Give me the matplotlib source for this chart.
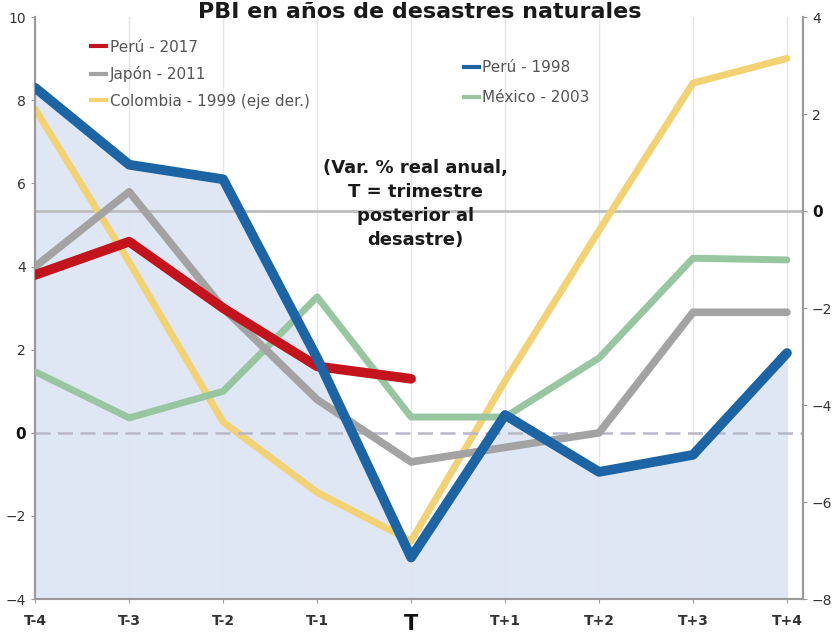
import matplotlib
matplotlib.use("Agg")
from matplotlib import pyplot as plt

quarters = ["T-4", "T-3", "T-2", "T-1", "T", "T+1", "T+2", "T+3", "T+4"]

peru_2017 = [3.8, 4.6, 3.0, 1.6, 1.3]
japon_2011 = [4.0, 5.8, 3.0, 0.8, -0.7, -0.35, 0.0, 2.9, 2.9]
peru_1998 = [8.3, 6.45, 6.1, 1.8, -3.0, 0.43, -0.94, -0.53, 1.92]
mexico_2003 = [1.47, 0.36, 1.0, 3.27, 0.38, 0.38, 1.8, 4.2, 4.16]
colombia_1999 = [2.1, -1.05, -4.35, -5.8, -6.8, -3.5, -0.4, 2.64, 3.15]  # eje derecho

left_ticks = [-4, -2, 0, 2, 4, 6, 8, 10]
right_ticks = [-8, -6, -4, -2, 0, 2, 4]

x = list(range(len(quarters)))

fig = plt.figure(figsize=(8.39, 6.36), dpi=100)
ax = fig.add_axes([0.042, 0.058, 0.915, 0.915])
ax2 = ax.twinx()
ax.set_zorder(ax2.get_zorder() + 1)
ax.patch.set_visible(False)

ax.set_xlim(0, 8.17)
ax.set_ylim(-4, 10)
ax2.set_ylim(-8, 4)

# background layer (ax2 sits under ax): shaded area under Peru 1998, grid, colombia
ax2.fill_between(x, peru_1998, -4, color="#dfe7f4", lw=0, zorder=0, transform=ax.transData)
for xi in x:
    ax2.axvline(xi, color="#e4e4ec", lw=1, zorder=0.5)
ax2.axhline(0, color="#bdbdbd", lw=2, zorder=1)
ax2.plot(x, colombia_1999, color="#f3d274", lw=5, solid_capstyle="round", zorder=2)
ax2.set_yticks(right_ticks)

ax.axhline(0, color="#b8b8c8", lw=1.8, ls=(0, (6, 3)), zorder=1)
ax.plot(x, mexico_2003, color="#97c6a1", lw=5, solid_capstyle="round", zorder=3)
ax.plot(x, japon_2011, color="#a3a3a3", lw=5.5, solid_capstyle="round", zorder=4)
ax.plot(x[:len(peru_2017)], peru_2017, color="#c3141e", lw=7, solid_capstyle="round", zorder=5)
ax.plot(x, peru_1998, color="#1c64a3", lw=7, solid_capstyle="round", zorder=6)

ax.set_yticks(left_ticks)
ax.set_xticks(x)
ax.set_xticklabels(quarters)

for a in (ax, ax2):
    a.spines["top"].set_visible(False)
    for s in ("left", "right", "bottom"):
        a.spines[s].set_color("#9a9a9a")
        a.spines[s].set_linewidth(1.5)
    a.tick_params(colors="#9a9a9a", labelcolor="#333333", length=3, labelsize=10)

for lab in ax.get_xticklabels():
    lab.set_fontweight("bold")
    if lab.get_text() == "T":
        lab.set_fontsize(15)
        lab.set_color("#111111")
for lab in ax.get_yticklabels() + ax2.get_yticklabels():
    if lab.get_text() == "0":
        lab.set_fontweight("bold")
        lab.set_color("#111111")
        lab.set_fontsize(11)
ax.tick_params(axis="x", pad=8)

fig.text(0.5, 0.981, "PBI en años de desastres naturales", ha="center", va="center",
         fontsize=16, fontweight="bold", color="#1a1a1a")

ax.text(0.495, 0.679, "(Var. % real anual,\nT = trimestre\nposterior al\ndesastre)",
        transform=ax.transAxes, ha="center", va="center", fontsize=13,
        fontweight="bold", color="#1a1a1a", linespacing=1.45, zorder=7)

# legends as two columns
h_red, = ax.plot([], [], color="#c3141e", lw=3)
h_gray, = ax.plot([], [], color="#a3a3a3", lw=3)
h_yel, = ax.plot([], [], color="#f3d274", lw=3)
h_blue, = ax.plot([], [], color="#1c64a3", lw=3)
h_green, = ax.plot([], [], color="#97c6a1", lw=3)

leg1 = ax.legend([h_red, h_gray, h_yel], ["Perú - 2017", "Japón - 2011", "Colombia - 1999 (eje der.)"],
                 loc="upper left", bbox_to_anchor=(0.055, 0.985), frameon=False, fontsize=11,
                 handlelength=1.0, handletextpad=0.2, labelspacing=0.75, labelcolor="#555555")
ax.add_artist(leg1)
ax.legend([h_blue, h_green], ["Perú - 1998", "México - 2003"],
          loc="upper left", bbox_to_anchor=(0.54, 0.95), frameon=False, fontsize=11,
          handlelength=1.0, handletextpad=0.2, labelspacing=1.0, labelcolor="#555555")

fig.savefig("out.png", dpi=100)
